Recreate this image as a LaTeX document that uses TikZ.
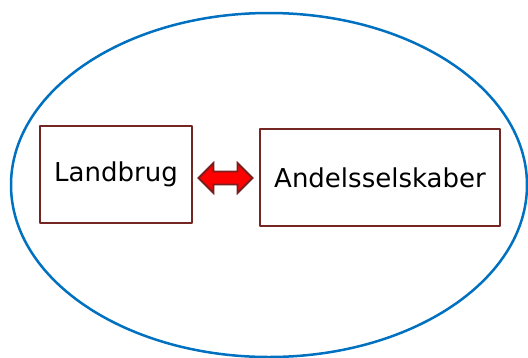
\documentclass[tikz,border=0pt]{standalone}
\usepackage{fontspec}
\setmainfont{DejaVu Sans}
\usetikzlibrary{arrows}
\definecolor{ovalblue}{RGB}{0,112,192}
\definecolor{boxred}{RGB}{115,38,34}
\definecolor{arrred}{RGB}{255,0,0}
\definecolor{arrline}{RGB}{120,30,30}
\tikzset{
  boxnode/.style={draw=boxred,line width=2.4pt,inner sep=0pt,font=\fontsize{26}{30}\selectfont},
  dblarrow/.style={draw=arrline,fill=arrred,line width=1.8pt,line join=miter}
}
\begin{document}
\begin{tikzpicture}[line cap=round,line join=round,x=1pt,y=-1pt]
		\useasboundingbox (0,0) rectangle (528,357);
		\draw [ovalblue,line width=2.5pt] (269,185) ellipse [x radius=258,y radius=172];
		\node [boxnode,minimum width=152pt,minimum height=97pt] (land) at (116,174.5) {Landbrug};
		\node [boxnode,minimum width=240pt,minimum height=97pt] (andel) at (380,177.5) {Andelsselskaber};
		\coordinate (arr) at (225.5,178);
		\draw [dblarrow] (arr) ++(-27,0) -- ++(15,-15) -- ++(0,8.5) -- ++(24,0) -- ++(0,-8.5)
		  -- ++(15,15) -- ++(-15,15) -- ++(0,-8.5) -- ++(-24,0) -- ++(0,8.5) -- cycle;
		\end{tikzpicture}
\end{document}
